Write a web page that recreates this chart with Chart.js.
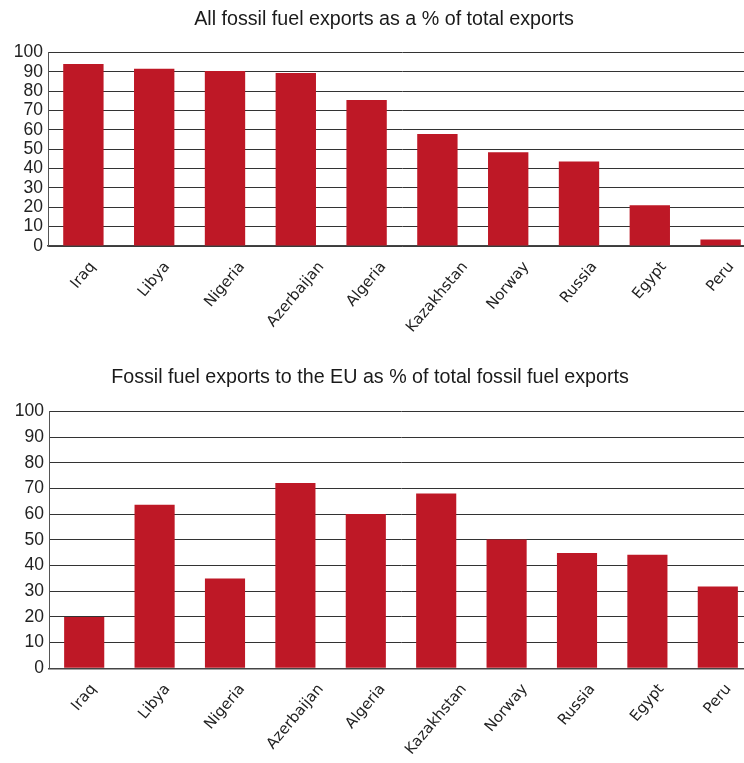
<!DOCTYPE html>
<html>
<head>
<meta charset="utf-8">
<script src="https://cdn.jsdelivr.net/npm/chart.js@4.4.1/dist/chart.umd.min.js"></script>
<style>
  html, body { margin: 0; padding: 0; background: #fff; overflow: hidden; width: 744px; height: 763px; position: relative; }
  canvas { position: absolute; }
  #c1 { top: 0; left: 0; }
  #c2 { top: 358px; left: -13px; }
</style>
</head>
<body>
<canvas id="c1" width="780" height="355"></canvas>
<canvas id="c2" width="766" height="405"></canvas>
<script>
const categories = ["Iraq", "Libya", "Nigeria", "Azerbaijan", "Algeria", "Kazakhstan", "Norway", "Russia", "Egypt", "Peru"];
const fossilShareOfExports = [94.1, 91.7, 90.5, 89.5, 75.5, 57.9, 48.5, 43.7, 21.1, 3.3];
const euShareOfFossilExports = [20.0, 63.6, 34.9, 72.1, 60.0, 68.0, 50.1, 44.9, 44.2, 31.8];
const title1 = "All fossil fuel exports as a % of total exports";
const title2 = "Fossil fuel exports to the EU as % of total fossil fuel exports";

const barColor = "#be1826";
const gridColor = "#333333";
const textColor = "#222222";

// Draws the category tick labels rotated, with each label's bounding box centred under its tick.
const rotatedLabels = {
  id: "rotatedLabels",
  afterDraw(chart, args, o) {
    const xs = chart.scales.x;
    const ctx = chart.ctx;
    const th = o.angle * Math.PI / 180;
    ctx.save();
    ctx.font = o.size + "px " + o.family;
    ctx.fillStyle = o.color;
    ctx.textAlign = "center";
    ctx.textBaseline = "middle";
    xs.ticks.forEach((t, i) => {
      const label = chart.data.labels[i];
      const x = xs.getPixelForTick(i);
      const w = ctx.measureText(label).width;
      const bh = w * Math.sin(th) + o.lineH * Math.cos(th);
      const cy = xs.top + o.gap + bh / 2;
      ctx.setTransform(1, 0, 0, 1, 0, 0);
      ctx.translate(x, cy);
      ctx.rotate(-th);
      ctx.fillText(label, 0, 0);
    });
    ctx.restore();
  }
};

function makeChart(id, data, title, opts) {
  new Chart(document.getElementById(id), {
    type: "bar",
    data: {
      labels: categories,
      datasets: [{
        data: data,
        backgroundColor: barColor,
        borderWidth: 0,
        barPercentage: 0.57,
        categoryPercentage: 1.0
      }]
    },
    plugins: [rotatedLabels],
    options: {
      responsive: false,
      animation: false,
      devicePixelRatio: 1,
      layout: { padding: { left: opts.padLeft, right: opts.padRight, top: 0, bottom: 0 } },
      plugins: {
        legend: { display: false },
        tooltip: { enabled: false },
        title: {
          display: true,
          text: title,
          color: "#1a1a1a",
          font: { family: "'Liberation Sans', sans-serif", size: 19.7, weight: "normal", lineHeight: 1.2 },
          padding: { top: opts.titleTop, bottom: opts.titleBottom }
        },
        rotatedLabels: {
          angle: 50, size: 15, lineH: 13, gap: 14,
          family: "'DejaVu Sans', sans-serif", color: textColor
        }
      },
      scales: {
        x: {
          grid: { display: false, drawTicks: false },
          border: { display: true, color: "#444", width: 1.5 },
          ticks: { display: false },
          afterFit: (s) => { s.height = opts.xHeight; }
        },
        y: {
          min: 0, max: 100,
          grid: { color: gridColor, lineWidth: 1, drawTicks: false },
          border: { display: true, color: "#555", width: 1 },
          ticks: {
            stepSize: 10,
            autoSkip: false,
            color: textColor,
            font: { family: "'Liberation Sans', sans-serif", size: 17.5 },
            padding: 5
          },
          afterFit: (s) => { s.width = opts.yWidth; }
        }
      }
    }
  });
}

makeChart("c1", fossilShareOfExports, title1, { padLeft: 12, padRight: 24, titleTop: 8, titleBottom: 21, xHeight: 109, yWidth: 36 });
makeChart("c2", euShareOfFossilExports, title2, { padLeft: 0, padRight: 0, titleTop: 8, titleBottom: 21.7, xHeight: 94.7, yWidth: 62 });
</script>
</body>
</html>
